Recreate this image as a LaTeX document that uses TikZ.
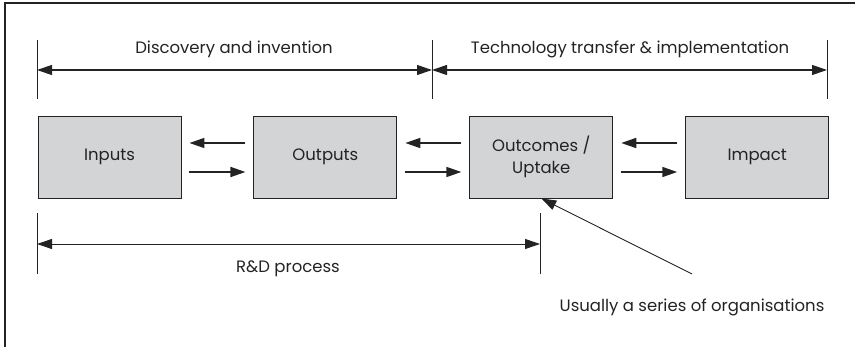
\documentclass[tikz,border=0pt]{standalone}
\usepackage{fontspec}
\setmainfont{Poppins}
\usepackage{xcolor}
\usepackage{tikz}
\usetikzlibrary{arrows.meta, positioning}

\definecolor{boxgray}{RGB}{211,212,214}
\definecolor{linegray}{RGB}{35,35,35}

\begin{document}
\begin{tikzpicture}[x=1pt, y=-1pt, >={Triangle[length=15pt, width=10pt]},
    every node/.style={font=\fontsize{16.5}{22}\selectfont, text=linegray},
    stagebox/.style={draw=linegray, fill=boxgray, line width=0.9pt,
        minimum width=143pt, minimum height=82pt, inner sep=0pt, align=center},
    flow/.style={->, draw=linegray, line width=1.6pt},
    span/.style={draw=linegray, line width=1.2pt}]
    \useasboundingbox (0,0) rectangle (855,347);

    % Khung
    \draw[linegray, line width=1.2pt] (5,360) -- (5,3) -- (870,3);

    % Các mốc phía trên
    \coordinate (tA) at (37,70);
    \coordinate (tB) at (432,70);
    \coordinate (tC) at (827,70);
    \foreach \p in {tA,tB,tC} {
        \draw[linegray, line width=0.9pt] ([yshift=30pt]\p) -- ([yshift=-29pt]\p);
    }
    \draw[span, <->] (tA) -- (tB);
    \draw[span, <->] (tB) -- (tC);
    \node (disc) at (234,49) {Discovery and invention};
    \node (tech) at (630,49) {Technology transfer \& implementation};

    % Các khối
    \node[stagebox] (inputs) at (109.5,157) {Inputs};
    \node[stagebox, right=72pt of inputs] (outputs) {Outputs};
    \node[stagebox, right=72pt of outputs] (outcomes) {Outcomes /\\Uptake};
    \node[stagebox, right=72pt of outcomes] (impact) {Impact};

    \foreach \a/\b in {inputs/outputs, outputs/outcomes, outcomes/impact} {
        \draw[flow] ([xshift=-8pt, yshift=14pt]\b.west) -- ([xshift=8pt, yshift=14pt]\a.east);
        \draw[flow] ([xshift=8pt, yshift=-15pt]\a.east) -- ([xshift=-8pt, yshift=-15pt]\b.west);
    }

    % R&D
    \coordinate (rA) at (37,244);
    \coordinate (rB) at (540,244);
    \foreach \p in {rA,rB} {
        \draw[linegray, line width=0.9pt] ([yshift=31pt]\p) -- ([yshift=-30pt]\p);
    }
    \draw[linegray, line width=0.9pt, <->] (rA) -- (rB);
    \node (rd) at (288,269) {R\&D process};

    % Ghi chú
    \coordinate (notetip) at (692,274);
    \draw[linegray, line width=0.9pt, ->] (notetip) -- (outcomes.south);
    \node (note) at (692,307) {Usually a series of organisations};
\end{tikzpicture}
\end{document}
